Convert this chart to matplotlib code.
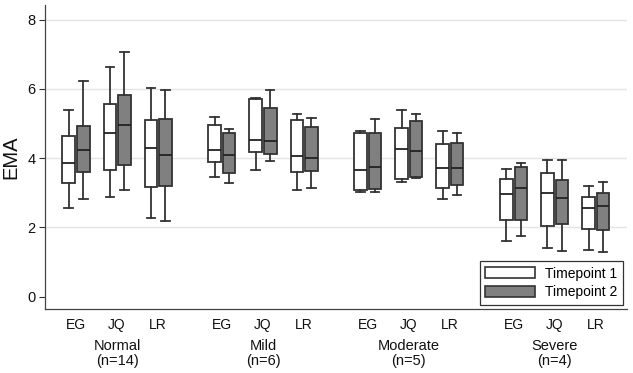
import matplotlib
matplotlib.use("Agg")
import matplotlib.pyplot as plt
from matplotlib.patches import Patch

plt.rcParams['font.family'] = ['Liberation Sans', 'DejaVu Sans']

groups = ["Normal\n(n=14)", "Mild\n(n=6)", "Moderate\n(n=5)", "Severe\n(n=4)"]
methods = ["EG", "JQ", "LR"]
series = ["Timepoint 1", "Timepoint 2"]

# order: Normal EG, JQ, LR, Mild EG, JQ, LR, Moderate ..., Severe ...
t1_low  = [2.56, 2.88, 2.26, 3.45, 3.67, 3.08, 3.03, 3.30, 2.83, 1.61, 1.41, 1.35]
t1_q1   = [3.29, 3.67, 3.17, 3.90, 4.18, 3.59, 3.08, 3.39, 3.14, 2.20, 2.05, 1.95]
t1_med  = [3.85, 4.72, 4.28, 4.22, 4.52, 4.05, 3.66, 4.25, 3.71, 2.97, 2.98, 2.56]
t1_q3   = [4.63, 5.56, 5.11, 4.95, 5.71, 5.09, 4.72, 4.88, 4.42, 3.41, 3.58, 2.88]
t1_high = [5.38, 6.64, 6.02, 5.18, 5.73, 5.26, 4.78, 5.38, 4.78, 3.69, 3.95, 3.20]

t2_low  = [2.83, 3.07, 2.18, 3.28, 3.93, 3.15, 3.03, 3.43, 2.93, 1.76, 1.33, 1.29]
t2_q1   = [3.61, 3.79, 3.19, 3.58, 4.11, 3.62, 3.11, 3.46, 3.21, 2.22, 2.11, 1.93]
t2_med  = [4.24, 4.96, 4.09, 4.10, 4.49, 4.00, 3.73, 4.21, 3.71, 3.15, 2.84, 2.62]
t2_q3   = [4.93, 5.83, 5.13, 4.72, 5.44, 4.89, 4.72, 5.07, 4.43, 3.75, 3.38, 3.00]
t2_high = [6.22, 7.07, 5.96, 4.83, 5.96, 5.17, 5.13, 5.26, 4.73, 3.86, 3.95, 3.31]

group_gap = 3.55
centers = [g * group_gap + m for g in range(len(groups)) for m in range(len(methods))]
offset = 0.177
width = 0.305

fig = plt.figure(figsize=(6.33, 3.73), dpi=100)
ax = fig.add_axes([0.0711, 0.1708, 0.9195, 0.8158])

edge = '#333333'

def stats(low, q1, med, q3, high):
    return [dict(whislo=a, q1=b, med=c, q3=d, whishi=e, fliers=[])
            for a, b, c, d, e in zip(low, q1, med, q3, high)]

for s, (st, face, dx) in enumerate([
        (stats(t1_low, t1_q1, t1_med, t1_q3, t1_high), 'white', -offset),
        (stats(t2_low, t2_q1, t2_med, t2_q3, t2_high), '#808080', offset)]):
    ax.bxp(st, positions=[c + dx for c in centers], widths=width,
           patch_artist=True, showfliers=False, manage_ticks=False,
           boxprops=dict(facecolor=face, edgecolor=edge, linewidth=1.3),
           medianprops=dict(color='#222222', linewidth=1.3),
           whiskerprops=dict(color=edge, linewidth=1.3),
           capprops=dict(color=edge, linewidth=1.3),
           capwidths=width * 0.68, zorder=3)

ax.set_xlim(-0.754, 13.41)
ax.set_ylim(-0.364, 8.42)
ax.set_yticks([0, 2, 4, 6, 8])
ax.set_yticklabels(['0', '2', '4', '6', '8'])
for v in [2, 4, 6, 8]:
    ax.axhline(v, color='#e4e4e4', linewidth=1.0, zorder=0)

ax.set_xticks(centers)
ax.set_xticklabels(methods * len(groups))
ax.tick_params(axis='x', length=0, pad=6, labelsize=10, colors='#111111')
ax.tick_params(axis='y', length=4, width=0.8, pad=3, labelsize=10.5, colors='#333333', labelcolor='#111111')
ax.set_ylabel('EMA', fontsize=14.5, labelpad=5, color='#111111')

for sp in ['top', 'right']:
    ax.spines[sp].set_visible(False)
for sp in ['left', 'bottom']:
    ax.spines[sp].set_color('#444444')
    ax.spines[sp].set_linewidth(0.9)

for g, name in enumerate(groups):
    ax.annotate(name, xy=(g * group_gap + 1, 0), xycoords=('data', 'axes fraction'),
                xytext=(0, -32), textcoords='offset points',
                ha='center', va='center', fontsize=10.5, color='#111111', linespacing=1.1)

handles = [Patch(facecolor='white', edgecolor=edge, linewidth=1.2),
           Patch(facecolor='#808080', edgecolor=edge, linewidth=1.2)]
leg = ax.legend(handles, series, loc='lower right', bbox_to_anchor=(0.993, 0.014),
                borderaxespad=0, fontsize=10, handlelength=3.6, handleheight=0.85,
                handletextpad=0.7, labelspacing=0.35, fancybox=False, framealpha=1,
                edgecolor='#333333', borderpad=0.4)
leg.get_frame().set_linewidth(0.9)

fig.savefig('out.png', dpi=100)
